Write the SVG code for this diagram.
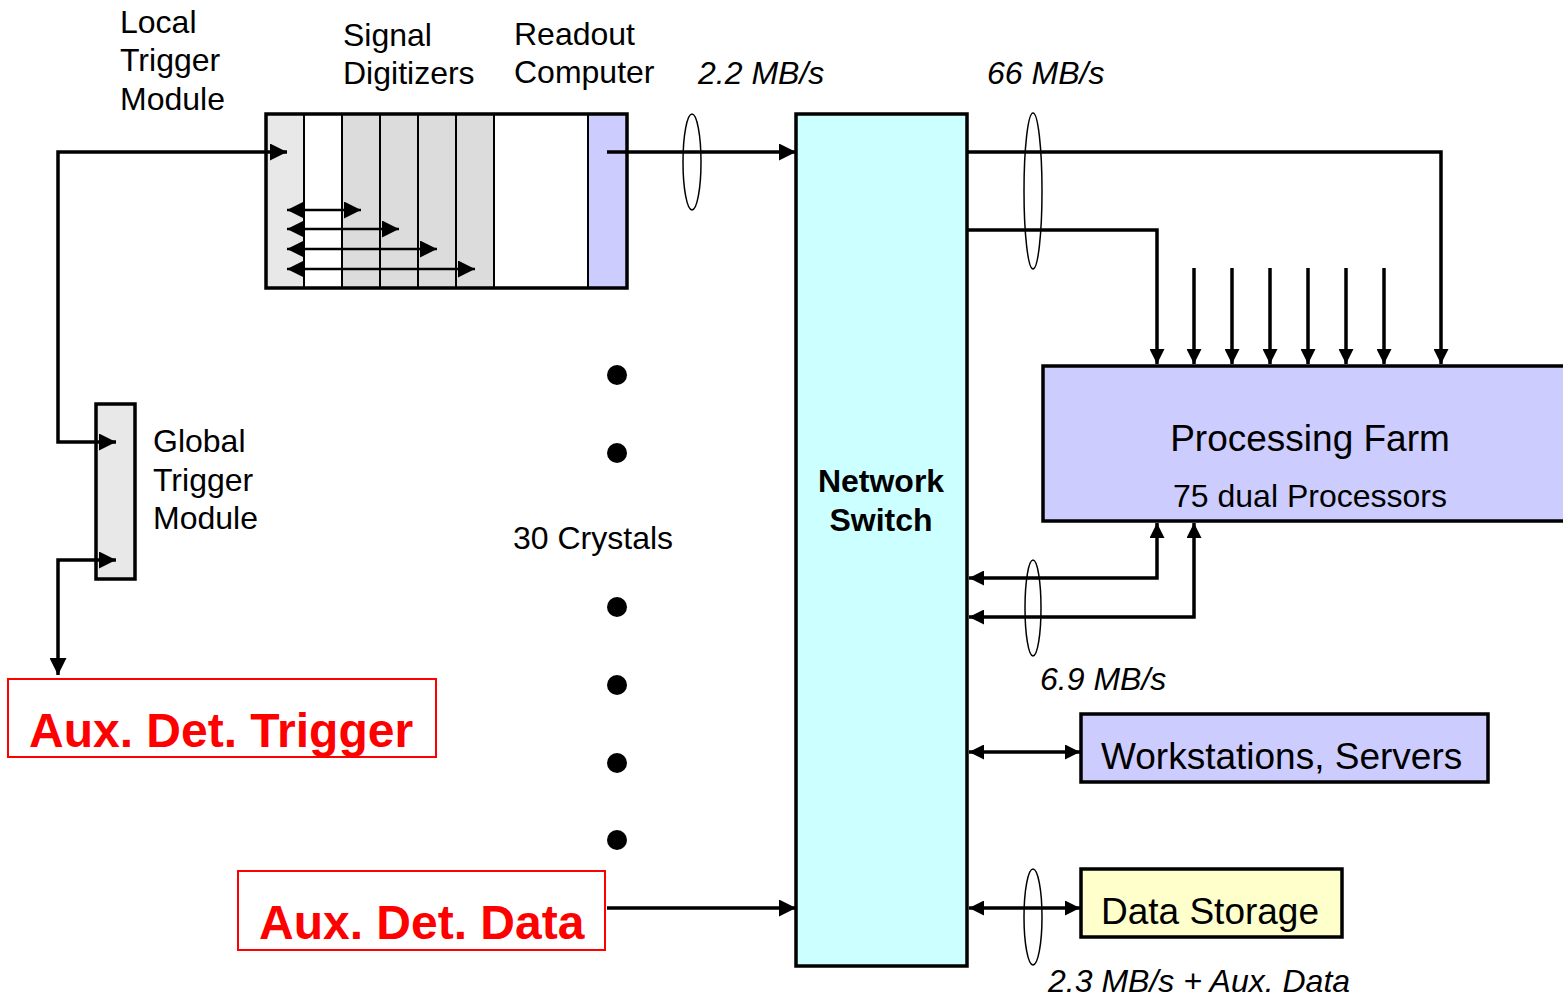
<svg xmlns="http://www.w3.org/2000/svg" width="1563" height="998" viewBox="0 0 1563 998">
<style>
text{font-family:"Liberation Sans",Arial,sans-serif;fill:#000}
.lbl{font-size:32px}
.big{font-size:37px}
.it{font-size:32px;font-style:italic}
.bold{font-size:32px;font-weight:bold}
.red{font-size:48px;font-weight:bold;fill:#ff0000}
.box{stroke:#000;stroke-width:3.5}
.col{stroke:#000;stroke-width:2}
.conn{fill:none;stroke:#000;stroke-width:3.5}
.thin{fill:none;stroke:#000;stroke-width:2.5}
.ell{fill:none;stroke:#000;stroke-width:1.5}
.redbox{fill:none;stroke:#ff0000;stroke-width:2}
</style>
<defs>
<marker id="ah" viewBox="0 0 10 10" refX="10" refY="5" markerWidth="17" markerHeight="17" markerUnits="userSpaceOnUse" orient="auto-start-reverse">
<path d="M0,0 L10,5 L0,10 z" fill="#000"/>
</marker>
<marker id="as" viewBox="0 0 10 10" refX="10" refY="5" markerWidth="15" markerHeight="15" markerUnits="userSpaceOnUse" orient="auto-start-reverse">
<path d="M0,0 L10,5 L0,10 z" fill="#000"/>
</marker>
</defs>

<g id="crate">
<rect x="266" y="114" width="38" height="174" fill="#e8e8e8"/>
<rect x="304" y="114" width="38" height="174" fill="#ffffff"/>
<rect x="342" y="114" width="152" height="174" fill="#dcdcdc"/>
<rect x="494" y="114" width="94" height="174" fill="#ffffff"/>
<rect x="588" y="114" width="39" height="174" fill="#ccccff"/>
<line class="col" x1="304" y1="114" x2="304" y2="288"/>
<line class="col" x1="342" y1="114" x2="342" y2="288"/>
<line class="col" x1="380" y1="114" x2="380" y2="288"/>
<line class="col" x1="418" y1="114" x2="418" y2="288"/>
<line class="col" x1="456" y1="114" x2="456" y2="288"/>
<line class="col" x1="494" y1="114" x2="494" y2="288"/>
<line class="col" x1="588" y1="114" x2="588" y2="288"/>
<rect class="box" x="266" y="114" width="361" height="174" fill="none"/>
</g>

<g id="local-trigger-label">
<text class="lbl" x="120" y="33">Local</text>
<text class="lbl" x="120" y="71">Trigger</text>
<text class="lbl" x="120" y="110">Module</text>
</g>
<g id="digitizers-label">
<text class="lbl" x="343" y="46">Signal</text>
<text class="lbl" x="343" y="84">Digitizers</text>
</g>
<g id="readout-label">
<text class="lbl" x="514" y="45">Readout</text>
<text class="lbl" x="514" y="83">Computer</text>
</g>

<g id="global-trigger">
<rect class="box" x="96" y="404" width="39" height="175" fill="#e8e8e8"/>
<text class="lbl" x="153" y="452">Global</text>
<text class="lbl" x="153" y="491">Trigger</text>
<text class="lbl" x="153" y="529">Module</text>
</g>

<g id="network-switch">
<rect class="box" x="796" y="114" width="171" height="852" fill="#ccffff"/>
<text class="bold" x="881" y="492" text-anchor="middle">Network</text>
<text class="bold" x="881" y="531" text-anchor="middle">Switch</text>
</g>

<g id="processing-farm">
<rect class="box" x="1043" y="366" width="540" height="155" fill="#ccccff"/>
<text class="big" x="1310" y="451" text-anchor="middle">Processing Farm</text>
<text class="lbl" x="1310" y="507" text-anchor="middle">75 dual Processors</text>
</g>

<g id="workstations">
<rect class="box" x="1081" y="714" width="407" height="68" fill="#ccccff"/>
<text class="big" x="1101" y="769">Workstations, Servers</text>
</g>

<g id="data-storage">
<rect class="box" x="1081" y="869" width="261" height="68" fill="#ffffcc"/>
<text class="big" x="1101" y="924">Data Storage</text>
</g>

<g id="aux-det-trigger">
<rect class="redbox" x="8" y="679" width="428" height="78"/>
<text class="red" x="29" y="747">Aux. Det. Trigger</text>
</g>

<g id="aux-det-data">
<rect class="redbox" x="238" y="871" width="367" height="79"/>
<text class="red" x="259" y="939">Aux. Det. Data</text>
</g>

<g id="crystals">
<circle cx="617" cy="375" r="10"/>
<circle cx="617" cy="453" r="10"/>
<circle cx="617" cy="607" r="10"/>
<circle cx="617" cy="685" r="10"/>
<circle cx="617" cy="763" r="10"/>
<circle cx="617" cy="840" r="10"/>
<text class="lbl" x="513" y="549">30 Crystals</text>
</g>

<g id="rates">
<text class="it" x="698" y="84">2.2 MB/s</text>
<text class="it" x="987" y="84">66 MB/s</text>
<text class="it" x="1040" y="690">6.9 MB/s</text>
<text class="it" x="1048" y="992">2.3 MB/s + Aux. Data</text>
<ellipse class="ell" cx="692" cy="162" rx="9" ry="48"/>
<ellipse class="ell" cx="1033" cy="191" rx="9" ry="78"/>
<ellipse class="ell" cx="1033" cy="608" rx="8" ry="48"/>
<ellipse class="ell" cx="1033" cy="917" rx="9" ry="48"/>
</g>

<g id="connectors">
<path class="conn" d="M116,442 H58 V152 H287" marker-start="url(#ah)" marker-end="url(#ah)"/>
<path class="conn" d="M116,560 H58 V675" marker-start="url(#ah)" marker-end="url(#ah)"/>
<path class="thin" d="M287,210 H361" marker-start="url(#ah)" marker-end="url(#ah)"/>
<path class="thin" d="M287,229 H399" marker-start="url(#ah)" marker-end="url(#ah)"/>
<path class="thin" d="M287,249 H437" marker-start="url(#ah)" marker-end="url(#ah)"/>
<path class="thin" d="M287,269 H475" marker-start="url(#ah)" marker-end="url(#ah)"/>
<path class="conn" d="M607,152 H796" marker-end="url(#ah)"/>
<path class="conn" d="M967,152 H1441 V364" marker-end="url(#as)"/>
<path class="conn" d="M967,230 H1157 V364" marker-end="url(#as)"/>
<path class="conn" d="M1194,268 V364" marker-end="url(#as)"/>
<path class="conn" d="M1232,268 V364" marker-end="url(#as)"/>
<path class="conn" d="M1270,268 V364" marker-end="url(#as)"/>
<path class="conn" d="M1308,268 V364" marker-end="url(#as)"/>
<path class="conn" d="M1346,268 V364" marker-end="url(#as)"/>
<path class="conn" d="M1384,268 V364" marker-end="url(#as)"/>
<path class="conn" d="M1157,523 V578 H969" marker-start="url(#as)" marker-end="url(#as)"/>
<path class="conn" d="M1194,523 V617 H969" marker-start="url(#as)" marker-end="url(#as)"/>
<path class="conn" d="M969,752 H1080" marker-start="url(#as)" marker-end="url(#as)"/>
<path class="conn" d="M969,908 H1080" marker-start="url(#as)" marker-end="url(#as)"/>
<path class="conn" d="M607,908 H796" marker-end="url(#ah)"/>
</g>
</svg>
